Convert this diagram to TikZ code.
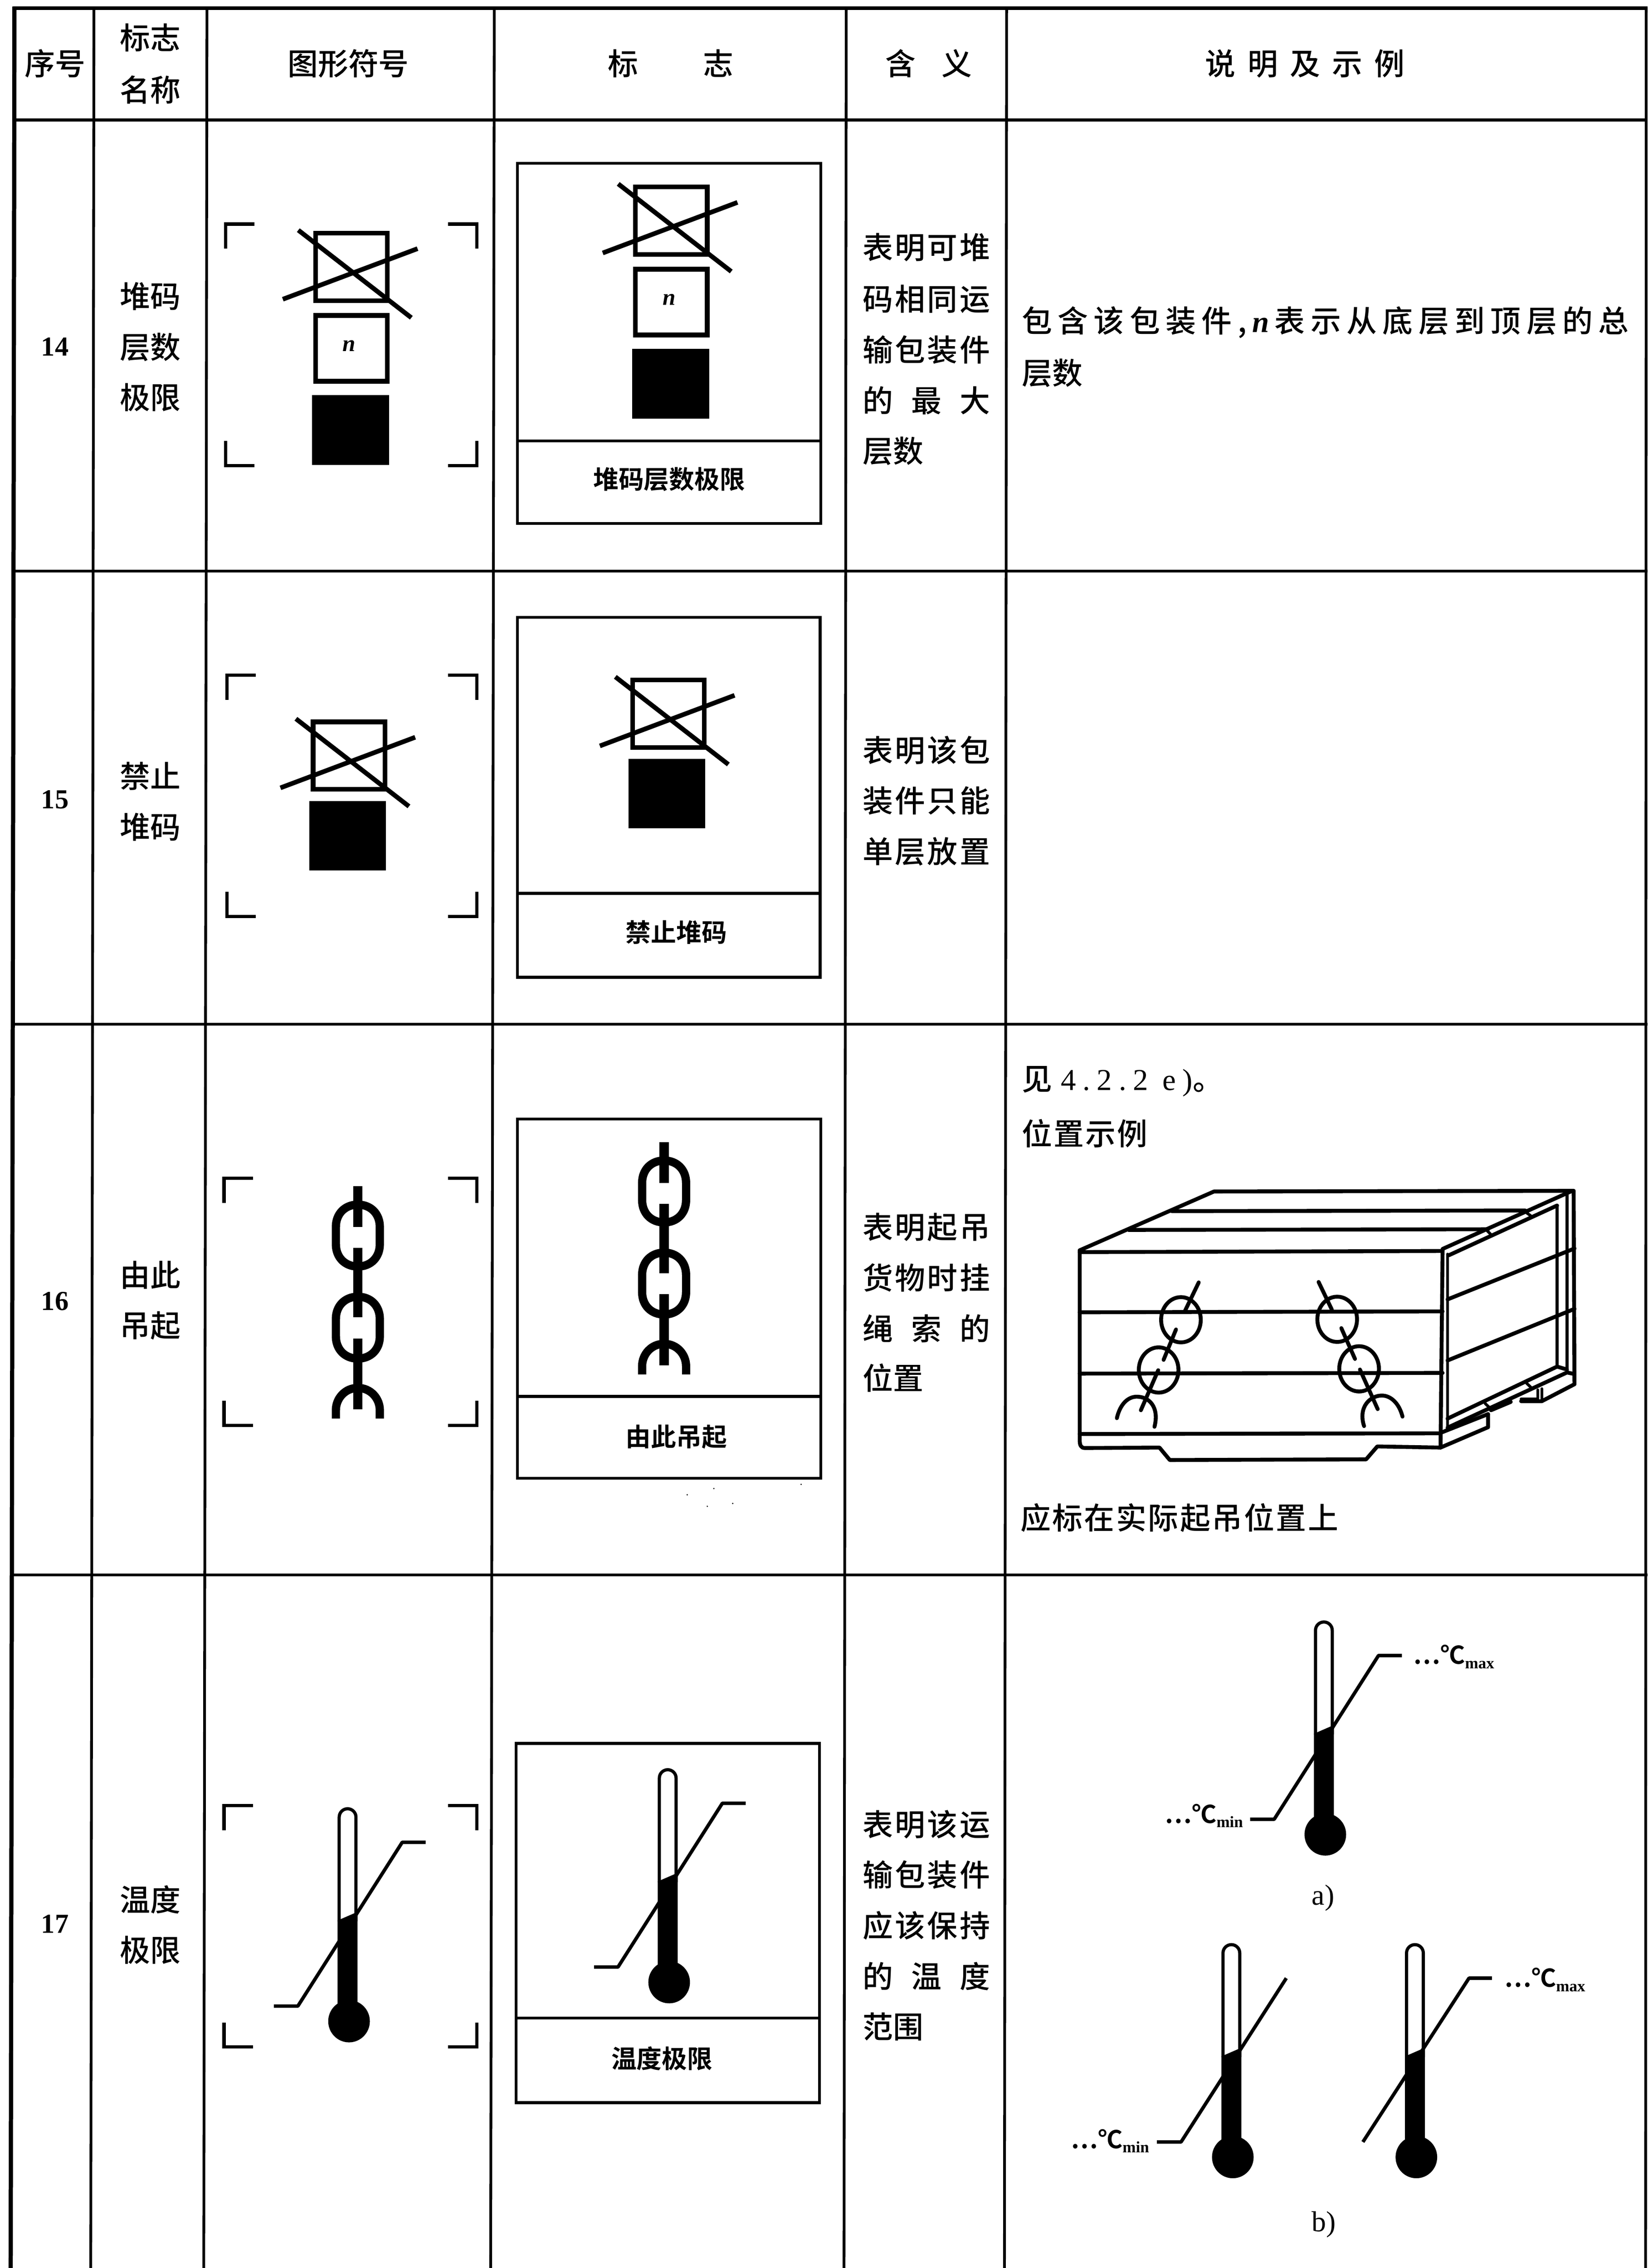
\documentclass[tikz,border=0pt]{standalone}
\usepackage{fontspec}
\setmainfont{Noto Sans CJK SC Medium}[BoldFont={Noto Sans CJK SC Bold}]
\newfontfamily\lat{Liberation Serif}
\newcommand\fs[1]{\fontsize{#1}{#1}\selectfont}
\newcommand\jl[2]{\makebox[#1pt][s]{#2}}
\newcommand\brk[4]{%
  \draw[brk] (#1+20,#2)--(#1,#2)--(#1,#2+17);
  \draw[brk] (#3-20,#2)--(#3,#2)--(#3,#2+17);
  \draw[brk] (#1+20,#4)--(#1,#4)--(#1,#4-17);
  \draw[brk] (#3-20,#4)--(#3,#4)--(#3,#4-17);}
\newcommand\xbox[2]{\begin{scope}[shift={(#1,#2)}]
  \draw[sym] (-24.85,1.7) rectangle (24.85,48.3);
  \draw[sym] (-36.75,-0.5)--(41.45,60.1);
  \draw[sym] (-47.45,47.3)--(45.75,12.3);
\end{scope}}
\newcommand\nbox[3]{\begin{scope}[shift={(#1,#2)}]
  \draw[sym] (-24.85,58.5) rectangle (24.85,104);
  \node[font=\fs{16}\lat\bfseries\itshape,inner sep=0pt] (#3) at (-1.6,79.5) {n};
\end{scope}}
\newcommand\blk[4]{\fill (#1,#2) rectangle (#3,#4);}
\newcommand\clink[2]{%
  \draw[chn] (#1-15.2,#2-6)--(#1-15.2,#2+6) .. controls (#1-15.2,#2+15) and (#1-9,#2+21.4) .. (#1,#2+21.4)
   .. controls (#1+9,#2+21.4) and (#1+15.2,#2+15) .. (#1+15.2,#2+6) -- (#1+15.2,#2-6)
   .. controls (#1+15.2,#2-15) and (#1+9,#2-21.4) .. (#1,#2-21.4)
   .. controls (#1-9,#2-21.4) and (#1-15.2,#2-15) .. (#1-15.2,#2-6) -- cycle;}
\newcommand\chain[2]{\begin{scope}[shift={(#1,#2)}]
  \clink{0}{34.2}\clink{0}{97.9}
  \fill (-3.2,0) rectangle (3.2,28.2);
  \fill (-3.2,42.7) rectangle (3.2,90.8);
  \fill (-3.2,105.3) rectangle (3.2,154.5);
  \draw[chn] (-15.2,160.8)--(-15.2,155) .. controls (-15.2,147) and (-9,139.6) .. (0,139.6)
     .. controls (9,139.6) and (15.2,147) .. (15.2,155) -- (15.2,160.8);
\end{scope}}
\newcommand\thermo[2]{\begin{scope}[shift={(#1,#2)}]
  \draw[tube] (-5.8,78)--(-5.8,6) arc[start angle=180,end angle=360,radius=5.8] -- (5.8,78);
  \fill (-6.9,77.5)--(6.9,71.5)--(6.9,135)--(-6.9,135)--cycle;
  \fill (1,147.2) ellipse[x radius=14.4,y radius=14.6];
\end{scope}}
\newcommand\thline[6]{\begin{scope}[shift={(#1,#2)}]
  \draw[tline] (#3,136.7)--(#4,136.7)--(#5,23.4)--(#6,23.4);
\end{scope}}
\newcommand\celsius[4]{\node[lab,anchor=west,font=\fs{17}] (#1) at (#2,#3) {\bfseries…℃\raisebox{-3pt}{\fs{11}\lat\bfseries #4}};}
\tikzset{
  lab/.style={inner sep=0pt,outer sep=0pt},
  hd/.style={lab,font=\fs{21}},
  bd/.style={lab,anchor=west,font=\fs{21}},
  lb/.style={lab,font=\fs{17.5}\bfseries},
  num/.style={lab,font=\fs{19}\lat\bfseries},
  grid/.style={line width=1.9pt},
  thk/.style={line width=2.3pt},
  sym/.style={line width=3.2pt},
  brk/.style={line width=2.3pt,line join=miter},
  chn/.style={line width=5.7pt},
  tube/.style={line width=2.2pt},
  tline/.style={line width=2.4pt,line join=round},
  panel/.style={line width=2pt},
  crate/.style={line width=2.7pt,line join=round,line cap=round},
  crate2/.style={line width=2pt,line join=round,line cap=round}
}
\begin{document}
\begin{tikzpicture}[x=1pt,y=-1pt]
\useasboundingbox (0,0) rectangle (1140,1568.9);
% grid
\draw[line width=2.9pt] (10,4.5)--(7.4,1568.9);
\draw[grid] (65,5)--(62.8,1568.9);
\draw[grid] (143.2,5)--(141,1568.9);
\draw[grid] (342,5)--(339.5,1568.9);
\draw[grid] (585.5,5)--(584,1568.9);
\draw[grid] (696.5,5)--(695,1568.9);
\draw[grid] (1139,5)--(1138.6,1568.9);
\draw[thk] (9,5.6)--(1140,5.6);
\draw[thk] (9,82.9)--(1140,82.9);
\draw[grid] (9,395)--(1140,395);
\draw[grid] (8.5,708.5)--(1140,708.5);
\draw[grid] (8.5,1089.5)--(1140,1089.5);
% header
\node[hd] (h1) at (38,44) {序号};
\node[hd] (h2a) at (104,26) {标志};
\node[hd] (h2b) at (104,62) {名称};
\node[hd] (h3) at (241,44) {\jl{84}{图\hfil 形\hfil 符\hfil 号}};
\node[hd] (h4) at (464,44) {\jl{87}{标\hfil 志}};
\node[hd] (h5) at (642.5,44) {\jl{60}{含\hfil 义}};
\node[hd] (h6) at (903,44) {\jl{138}{说\hfil 明\hfil 及\hfil 示\hfil 例}};
% row 14
\node[num] (n14) at (38,240) {14};
\node[hd] (a14a) at (104,205) {堆码};
\node[hd] (a14b) at (104,240) {层数};
\node[hd] (a14c) at (104,275) {极限};
\brk{156}{155}{330}{322}
\xbox{243.15}{159.7}
\nbox{243.15}{159.7}{nl}
\blk{216}{273.2}{269.3}{321.7}
\draw[panel] (358,113) rectangle (568,362);
\draw[panel] (358,305)--(568,305);
\xbox{464.5}{127.7}
\nbox{464.5}{127.7}{nr}
\blk{437.3}{241.2}{490.6}{289.7}
\node[lb] (l14) at (463,331.5) {堆码层数极限};
\node[bd] (m14a) at (597,171) {\jl{88}{表\hfil 明\hfil 可\hfil 堆}};
\node[bd] (m14b) at (597,207) {\jl{88}{码\hfil 相\hfil 同\hfil 运}};
\node[bd] (m14c) at (597,242) {\jl{88}{输\hfil 包\hfil 装\hfil 件}};
\node[bd] (m14d) at (597,277) {\jl{88}{的\hfil 最\hfil 大}};
\node[bd] (m14e) at (597,312) {层数};
\node[bd] (d14a) at (707,223) {\jl{420}{包\hfil 含\hfil 该\hfil 包\hfil 装\hfil 件\hfil ,\hfil {\lat\bfseries\itshape n}\hfil 表\hfil 示\hfil 从\hfil 底\hfil 层\hfil 到\hfil 顶\hfil 层\hfil 的\hfil 总}};
\node[bd] (d14b) at (707,258) {层数};
% row 15
\node[num] (n15) at (38,553) {15};
\node[hd] (a15a) at (104,537) {禁止};
\node[hd] (a15b) at (104,572) {堆码};
\brk{157}{467}{330}{634}
\xbox{241.5}{497.7}
\blk{214}{554}{267}{602}
\draw[panel] (358,427) rectangle (567.5,676);
\draw[panel] (358,618)--(567.5,618);
\xbox{462.5}{468.7}
\blk{435}{525}{488}{573}
\node[lb] (l15) at (468,645) {禁止堆码};
\node[bd] (m15a) at (597,519) {\jl{88}{表\hfil 明\hfil 该\hfil 包}};
\node[bd] (m15b) at (597,554) {\jl{88}{装\hfil 件\hfil 只\hfil 能}};
\node[bd] (m15c) at (597,589) {\jl{88}{单\hfil 层\hfil 放\hfil 置}};
% row 16
\node[num] (n16) at (38,900) {16};
\node[hd] (a16a) at (104,882) {由此};
\node[hd] (a16b) at (104,917) {吊起};
\brk{155}{815}{330}{986}
\chain{247.6}{820.5}
\draw[panel] (358,774) rectangle (568,1022.5);
\draw[panel] (358,966)--(568,966);
\chain{459.5}{790}
\node[lb] (l16) at (468,994) {由此吊起};
\node[bd] (m16a) at (597,849) {\jl{88}{表\hfil 明\hfil 起\hfil 吊}};
\node[bd] (m16b) at (597,884) {\jl{88}{货\hfil 物\hfil 时\hfil 挂}};
\node[bd] (m16c) at (597,919) {\jl{88}{绳\hfil 索\hfil 的}};
\node[bd] (m16d) at (597,953) {位置};
\node[bd] (d16a) at (707,748) {见\kern6pt{\lat\addfontfeature{LetterSpace=22}4.2.2 e)}。};
\node[bd] (d16b) at (707,784) {\jl{87}{位\hfil 置\hfil 示\hfil 例}};
\node[bd] (d16c) at (706,1050) {\jl{220}{应\hfil 标\hfil 在\hfil 实\hfil 际\hfil 起\hfil 吊\hfil 位\hfil 置\hfil 上}};
% specks
\foreach \sx/\sy in {475.5/1034,493.9/1029.7,507/1040,489.4/1042,554.3/1026.8}
  \fill (\sx,\sy) circle[radius=.5];
% crate
\begin{scope}[xshift=690.7pt,yshift=-780.7pt,x=.286pt,y=-.1565pt]
  \draw[crate] (197,538)--(197,1375) .. controls (197,1400) and (200,1412) .. (210,1412)
     --(390,1410)--(415,1465)--(890,1462)--(917,1405)--(1070,1410);
  \draw[crate] (197,546)--(1075,541);
  \draw[crate] (197,812)--(1075,808);
  \draw[crate] (197,1083)--(1075,1080);
  \draw[crate] (197,1350)--(1065,1347);
  \draw[crate] (1075,535)--(1070,1410);
  \draw[crate2] (1087,555)--(1087,1335);
  % top
  \draw[crate] (197,538)--(522,278)--(1392,275);
  \draw[crate] (420,365)--(1275,362);
  \draw[crate] (315,448)--(1185,445);
  \draw[crate] (1075,532)--(1385,278);
  \draw[crate] (1090,560)--(1352,340);
  \draw[crate2] (1181,448)--(1192,468);
  \draw[crate2] (1275,368)--(1288,385);
  % right side
  \draw[crate] (1392,275)--(1394,1130)--(1315,1205)--(1265,1205);
  \draw[crate2] (1352,340)--(1352,1050);
  \draw[crate2] (1376,290)--(1376,1075);
  \draw[crate] (1087,755)--(1394,530);
  \draw[crate] (1087,1025)--(1394,797);
  \draw[crate] (1087,1282)--(1352,1052)--(1376,1065);
  \draw[crate] (1087,1322)--(1376,1078)--(1394,1085);
  \draw[crate2] (1178,1215)--(1192,1240);
  \draw[crate2] (1278,1125)--(1292,1150);
  \draw[crate] (1070,1345)--(1185,1262);
  \draw[crate] (1070,1410)--(1185,1320)--(1185,1262);
  \draw[crate] (1192,1245)--(1240,1208);
  \draw[crate2] (1315,1205)--(1315,1150);
  \draw[crate2] (1265,1195)--(1305,1195)--(1305,1155);
  % chains
  \draw[crate] (485,680)--(452,805);
  \draw[crate] (442,845) ellipse[x radius=48,y radius=100];
  \draw[crate] (430,888)--(400,1022);
  \draw[crate] (388,1067) ellipse[x radius=48,y radius=100];
  \draw[crate] (387,1068)--(345,1245);
  \draw[crate] (287,1280) .. controls (295,1215) and (315,1185) .. (335,1185) .. controls (365,1185) and (390,1230) .. (378,1318);
  \draw[crate] (775,678)--(807,800);
  \draw[crate] (820,843) ellipse[x radius=48,y radius=100];
  \draw[crate] (830,882)--(863,1018);
  \draw[crate] (873,1062) ellipse[x radius=48,y radius=100];
  \draw[crate] (875,1065)--(918,1240);
  \draw[crate] (885,1315) .. controls (870,1230) and (900,1180) .. (928,1180) .. controls (950,1180) and (970,1215) .. (978,1273);
\end{scope}
% row 17
\node[num] (n17) at (38,1331) {17};
\node[hd] (a17a) at (104,1314) {温度};
\node[hd] (a17b) at (104,1349) {极限};
\brk{155}{1249}{330}{1416}
\thermo{240.5}{1251}
\thline{240.5}{1251}{-51}{-34.4}{37.8}{54}
\draw[panel] (357,1206) rectangle (567,1454.5);
\draw[panel] (357,1396)--(567,1396);
\thermo{462}{1224}
\thline{462}{1224}{-51}{-34.4}{37.8}{54}
\node[lb] (l17) at (458,1424) {温度极限};
\node[bd] (m17a) at (597,1262) {\jl{88}{表\hfil 明\hfil 该\hfil 运}};
\node[bd] (m17b) at (597,1297) {\jl{88}{输\hfil 包\hfil 装\hfil 件}};
\node[bd] (m17c) at (597,1332) {\jl{88}{应\hfil 该\hfil 保\hfil 持}};
\node[bd] (m17d) at (597,1367) {\jl{88}{的\hfil 温\hfil 度}};
\node[bd] (m17e) at (597,1402) {范围};
% examples
\thermo{916}{1121.8}
\thline{916}{1121.8}{-51}{-34.4}{37.8}{54}
\celsius{ca}{978}{1146}{max}
\celsius{cb}{806}{1256}{min}
\node[lab,font=\fs{20}\lat] (capa) at (915.5,1313) {a)};
\thermo{852}{1345}
\thline{852}{1345}{-51.5}{-34.8}{38}{38}
\celsius{cc}{741}{1481}{min}
\thermo{979}{1345}
\thline{979}{1345}{-36}{-36}{37.4}{53.3}
\celsius{cd}{1041}{1369.5}{max}
\node[lab,font=\fs{20}\lat] (capb) at (916,1538.7) {b)};
\end{tikzpicture}
\end{document}
